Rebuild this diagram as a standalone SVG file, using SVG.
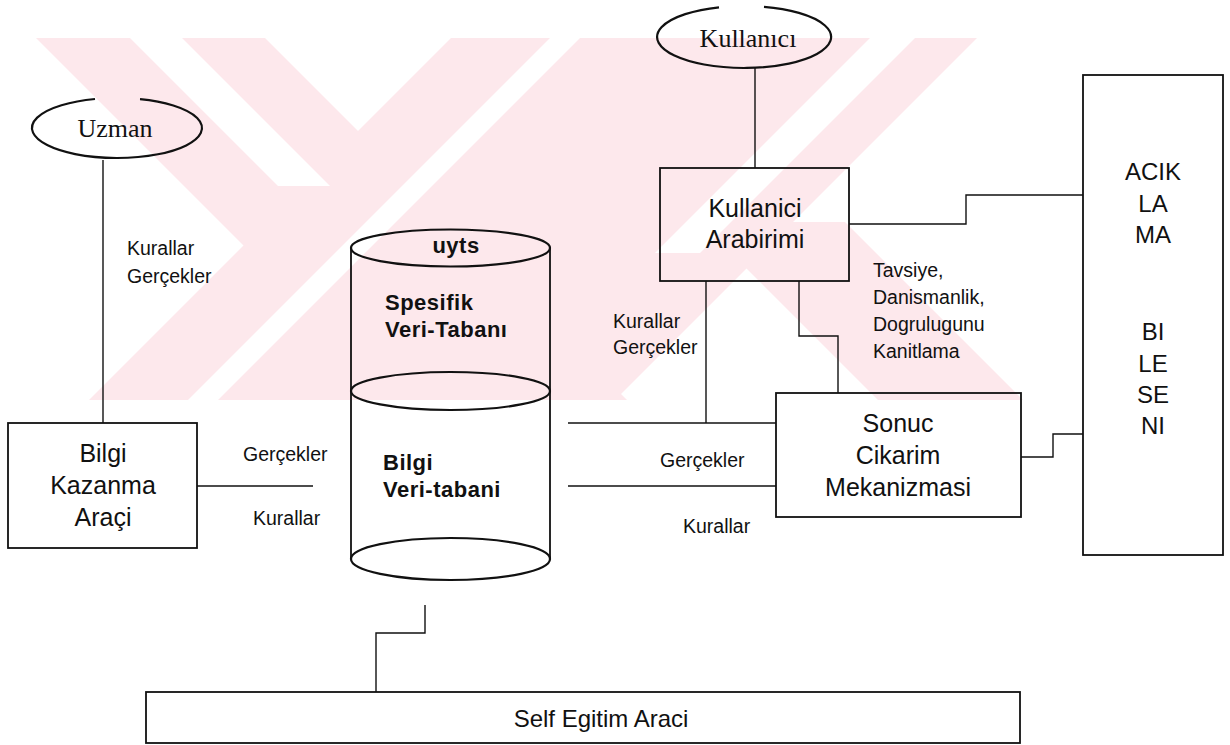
<svg xmlns="http://www.w3.org/2000/svg" width="1230" height="745" viewBox="0 0 1230 745">
  <defs>
    <style>
      .box{fill:none;stroke:#111;stroke-width:1.8}
      .ln{fill:none;stroke:#111;stroke-width:1.4}
      .oval{fill:none;stroke:#111;stroke-width:2.2}
      .t{font-family:"Liberation Sans",Arial,sans-serif;fill:#111;text-anchor:middle}
      .big{font-size:25px}
      .lbl{font-family:"Liberation Sans",Arial,sans-serif;font-size:19.5px;fill:#111}
      .db{font-family:"Liberation Sans",Arial,sans-serif;font-weight:bold;font-size:22px;fill:#111;letter-spacing:0.5px}
      .serif{font-family:"Liberation Serif","Times New Roman",serif;font-size:26px;fill:#111;text-anchor:middle}
      .wm{fill:#fde8ec}
      .wg{fill:#ffffff}
    </style>
    <clipPath id="wmclip"><rect x="30" y="38" width="1000" height="362"/></clipPath>
  </defs>

  <rect width="1230" height="745" fill="#ffffff"/>

  <!-- faint background emblem -->
  <g id="emblem" clip-path="url(#wmclip)">
    <polygon class="wm" points="36,38 265,38 627,400 398,400"/>
    <polygon class="wm" points="451,38 977,38 615,400 89,400"/>
    <polygon class="wm" points="700,222 845,222 1023,400 878,400"/>
    <polygon class="wg" points="130,38 182,38 330,186 278,186"/>
    <polygon class="wg" points="550,38 580,38 218,400 188,400"/>
    <polygon class="wg" points="870,38 915,38 700,253 655,253"/>
  </g>

  <!-- connectors -->
  <g id="connectors">
    <path class="ln" d="M103,160 V423"/>
    <path class="ln" d="M197,486 H313"/>
    <path class="ln" d="M568,423 H776"/>
    <path class="ln" d="M568,486 H776"/>
    <path class="ln" d="M755,68 V168"/>
    <path class="ln" d="M706,281 V423"/>
    <path class="ln" d="M799,281 V336 H838 V393"/>
    <path class="ln" d="M849,224 H966 V195 H1083"/>
    <path class="ln" d="M1021,457 H1053 V434 H1083"/>
    <path class="ln" d="M425,605 V633 H376 V692"/>
  </g>

  <!-- connector labels -->
  <g id="labels">
    <text class="lbl" x="127" y="255">Kurallar</text>
    <text class="lbl" x="127" y="283">Gerçekler</text>
    <text class="lbl" x="243" y="461">Gerçekler</text>
    <text class="lbl" x="253" y="525">Kurallar</text>
    <text class="lbl" x="613" y="328">Kurallar</text>
    <text class="lbl" x="613" y="354">Gerçekler</text>
    <text class="lbl" x="873" y="277">Tavsiye,</text>
    <text class="lbl" x="873" y="304">Danismanlik,</text>
    <text class="lbl" x="873" y="331">Dogrulugunu</text>
    <text class="lbl" x="873" y="358">Kanitlama</text>
    <text class="lbl" x="660" y="467">Gerçekler</text>
    <text class="lbl" x="683" y="533">Kurallar</text>
  </g>

  <g id="uzman">
    <path class="oval" d="M140,99.1 A85,30 0 1 1 95,99"/>
    <text class="serif" x="115" y="137">Uzman</text>
  </g>

  <g id="kullanici">
    <path class="oval" d="M764,6.8 A87,31 0 1 1 719,7.3"/>
    <text class="serif" x="748" y="47">Kullanıcı</text>
  </g>

  <g id="bilgi-kazanma">
    <rect class="box" x="8" y="423" width="189" height="125"/>
    <text class="t big" x="103" y="462">Bilgi</text>
    <text class="t big" x="103" y="494">Kazanma</text>
    <text class="t big" x="103" y="526">Araçi</text>
  </g>

  <g id="veritabani">
    <path class="box" d="M351,248 V559 M550,248 V559"/>
    <ellipse class="oval" cx="450.5" cy="248" rx="99.5" ry="18.5" fill="none"/>
    <ellipse class="oval" cx="450.5" cy="391" rx="99.5" ry="19" fill="none"/>
    <ellipse class="oval" cx="450.5" cy="559" rx="99.5" ry="21" fill="none"/>
    <text class="db" x="456" y="253" text-anchor="middle" font-size="20">uyts</text>
    <text class="db" x="385" y="310">Spesifik</text>
    <text class="db" x="385" y="337">Veri-Tabanı</text>
    <text class="db" x="383" y="470">Bilgi</text>
    <text class="db" x="383" y="497">Veri-tabani</text>
  </g>

  <g id="kullanici-arabirimi">
    <rect class="box" x="660" y="168" width="189" height="113"/>
    <text class="t big" x="755" y="217">Kullanici</text>
    <text class="t big" x="755" y="248">Arabirimi</text>
  </g>

  <g id="sonuc-cikarim">
    <rect class="box" x="776" y="393" width="245" height="124"/>
    <text class="t big" x="898" y="432">Sonuc</text>
    <text class="t big" x="898" y="464">Cikarim</text>
    <text class="t big" x="898" y="496">Mekanizmasi</text>
  </g>

  <g id="aciklama">
    <rect class="box" x="1083" y="75" width="140" height="480"/>
    <text class="t" font-size="24" x="1153" y="180">ACIK</text>
    <text class="t" font-size="24" x="1153" y="212">LA</text>
    <text class="t" font-size="24" x="1153" y="243">MA</text>
    <text class="t" font-size="24" x="1153" y="340">BI</text>
    <text class="t" font-size="24" x="1153" y="372">LE</text>
    <text class="t" font-size="24" x="1153" y="403">SE</text>
    <text class="t" font-size="24" x="1153" y="434">NI</text>
  </g>

  <g id="self-egitim">
    <rect class="box" x="146" y="692" width="874" height="51"/>
    <text class="t" font-size="24" x="601" y="727">Self Egitim Araci</text>
  </g>
</svg>
